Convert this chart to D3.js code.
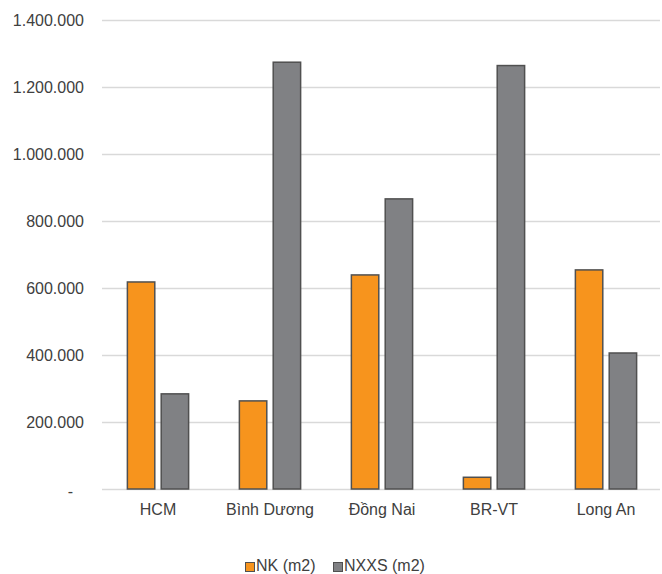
<!DOCTYPE html>
<html>
<head>
<meta charset="utf-8">
<script src="https://cdn.jsdelivr.net/npm/d3@7"></script>
<style>
  html, body { margin: 0; padding: 0; background: #fff; }
  svg { display: block; font-family: "Liberation Sans", Arial, sans-serif; }
</style>
</head>
<body>
<svg id="chart" width="662" height="574"></svg>
<script>
// Provinces and floor area (m2) per series
const categories = ["HCM", "Bình Dương", "Đồng Nai", "BR-VT", "Long An"];
const nkValues = [618000, 263000, 639000, 35000, 654000];
const nxxsValues = [284000, 1274000, 866000, 1264000, 406000];
const seriesNames = ["NK (m2)", "NXXS (m2)"];
const seriesColors = ["#F7941D", "#808184"];
const yTicks = [0, 200000, 400000, 600000, 800000, 1000000, 1200000, 1400000];

const svg = d3.select("#chart");
const margin = { left: 102, right: 0, top: 20, bottom: 85 };
const W = 662, H = 574;
const fontSize = 16;

const x = d3.scaleBand().domain(categories)
  .range([margin.left, W - margin.right]).paddingInner(0).paddingOuter(0);
const y = d3.scaleLinear().domain([0, 1400000]).range([H - margin.bottom, margin.top]);

const fmt = v => v === 0 ? "-" : d3.format(",")(v).replace(/,/g, ".");

// gridlines
svg.append("g").selectAll("line").data(yTicks).join("line")
  .attr("x1", margin.left).attr("x2", W - 2)
  .attr("y1", d => Math.round(y(d)) + 0.5).attr("y2", d => Math.round(y(d)) + 0.5)
  .attr("stroke", "#d9d9d9").attr("stroke-width", 1.5);

// y axis labels (accounting style: the zero dash sits left of the digit column)
const yAxis = d3.axisLeft(y).tickValues(yTicks).tickFormat(fmt).tickSize(0).tickPadding(0);
const gy = svg.append("g").attr("transform", `translate(84,0)`).call(yAxis);
gy.select(".domain").remove();
gy.selectAll("text").attr("font-size", fontSize).attr("fill", "#404040")
  .attr("font-family", "Liberation Sans, Arial, sans-serif")
  .attr("dx", d => d === 0 ? -11 : 0)
  .attr("dy", d => d === 0 ? "0.45em" : "0.32em");

// bars
const sub = d3.scaleBand().domain([0, 1]).range([0, x.bandwidth()]).paddingInner(0.19).paddingOuter(0.75);
const rows = categories.map((c, i) => ({ c, vals: [nkValues[i], nxxsValues[i]] }));
const groups = svg.append("g").selectAll("g").data(rows).join("g")
  .attr("transform", d => `translate(${x(d.c)},0)`);
groups.selectAll("rect").data(d => d.vals.map((v, k) => ({ v, k }))).join("rect")
  .attr("x", d => sub(d.k))
  .attr("width", sub.bandwidth())
  .attr("y", d => y(d.v))
  .attr("height", d => y(0) - y(d.v))
  .attr("fill", d => seriesColors[d.k])
  .attr("stroke", "#505050").attr("stroke-width", 1.5);

// x axis labels
const xAxis = d3.axisBottom(x).tickSize(0).tickPadding(0);
const gx = svg.append("g").attr("transform", `translate(0,${y(0) + 15})`).call(xAxis);
gx.select(".domain").remove();
gx.selectAll("text").attr("font-size", fontSize).attr("fill", "#404040")
  .attr("font-family", "Liberation Sans, Arial, sans-serif");

// legend
const legend = svg.append("g").attr("transform", "translate(245,561)");
const legendX = [0, 88];
seriesNames.forEach((name, k) => {
  const g = legend.append("g").attr("transform", `translate(${legendX[k]},0)`);
  g.append("rect").attr("x", 0.5).attr("y", 1.5).attr("width", 9).attr("height", 9)
    .attr("fill", seriesColors[k]).attr("stroke", "#505050").attr("stroke-width", 1);
  g.append("text").attr("x", 11).attr("y", 9.5).attr("font-size", fontSize)
    .attr("fill", "#404040").text(name);
});
</script>
</body>
</html>
